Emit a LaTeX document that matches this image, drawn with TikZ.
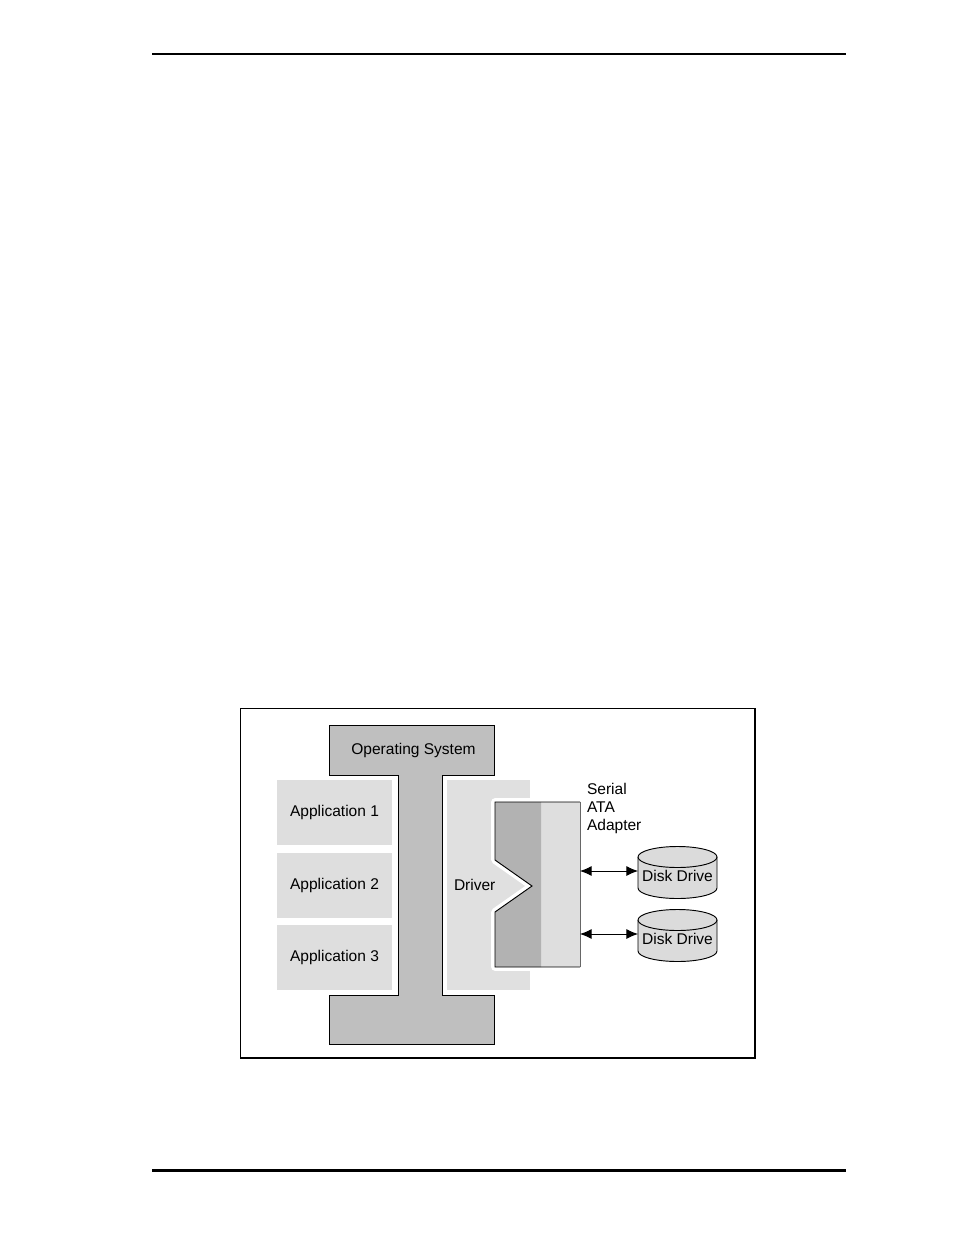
\documentclass[tikz,border=0pt]{standalone}
\usepackage{fontspec}
\setmainfont{Liberation Sans}
\usetikzlibrary{arrows.meta,positioning,calc}
\newlength\px
\setlength\px{0.6439pt}
\tikzset{
  box/.style={inner sep=0,outer sep=0},
  app box/.style={box,fill=black!13,minimum width=115\px,minimum height=65\px},
  driver box/.style={box,fill=black!12,minimum width=83\px,minimum height=210\px},
  adapter box/.style={box,minimum width=85\px,minimum height=165\px},
  disk box/.style={box,minimum width=79\px,minimum height=31\px,text height=13.6pt},
  disk fill/.style={fill=black!14,draw=black,line width=0.6pt},
  os fill/.style={fill=black!25,draw=black,line width=0.6pt},
  link/.style={{Latex[length=7.5pt,width=6.5pt]}-{Latex[length=7.5pt,width=6.5pt]},line width=0.6pt}
}
\begin{document}
\begin{tikzpicture}[x=0.6439pt,y=-0.6439pt]
    \useasboundingbox (0,0) rectangle (954,1235);
    % Page rules and frame
    \draw[line width=0.7pt] (152,54) -- (846,54);
    \draw[line width=1.4pt] (152,1170.5) -- (846,1170.5);
    \draw[line width=0.6pt] (240,708) rectangle (755,1058);
    \draw[line width=1.3pt] (755,708) -- (755,1058) -- (240,1058);
    % Operating system beam
    \draw[os fill] (329,725) -| (494,775) -| (442,995) -| (494,1044) -| (329,995) -| (398,775) -| (329,725) -- cycle;
    \node[box] (os) at (413.5,750) {Operating System};
    % Applications and driver
    \foreach \i in {1,2,3} \node[app box] (app\i) at (334.5,{812.5+72.5*(\i-1)}) {Application \i};
    \node[driver box] (drv) at (488.5,885) {};
    \node[box,right=7\px of drv.west] (drvtext) {Driver};
    % Serial ATA adapter
    \draw[white,line width=5pt,line join=round] (580,802) -- (495,802) -- (495,860) -- (532,886) -- (495,912) -- (495,967) -- (580,967);
    \fill[black!13] (541,802) rectangle (580,967);
    \fill[black!30] (495,802) -- (541,802) -- (541,967) -- (495,967) -- (495,912) -- (532,886) -- (495,860) -- cycle;
    \draw[line width=0.6pt] (580,802) -- (495,802) -- (495,860) -- (532,886) -- (495,912) -- (495,967) -- (580,967);
    \draw[black!60,line width=0.6pt] (580,802) -- (580,967);
    \node[adapter box] (sata) at (537.5,884.5) {};
    \node[box,align=left,anchor=north west,font=\fontsize{10}{11.6}\selectfont] (satatext) at (587,783.5) {Serial\\ATA\\Adapter};
    % Disk drives and connections
    \foreach \i/\y in {1/857,2/920} {
      \filldraw[disk fill] (638,\y) -- (638,\y+31) arc[start angle=180,end angle=0,x radius=39.5,y radius=10.5] -- (717,\y);
      \filldraw[disk fill] (677.5,\y) ellipse[x radius=39.5,y radius=10.5];
      \node[disk box] (disk\i) at (677.5,\y+14) {Disk Drive};
      \draw[link] (sata.east |- disk\i.west) -- (disk\i.west);
    }
  \end{tikzpicture}
\end{document}
